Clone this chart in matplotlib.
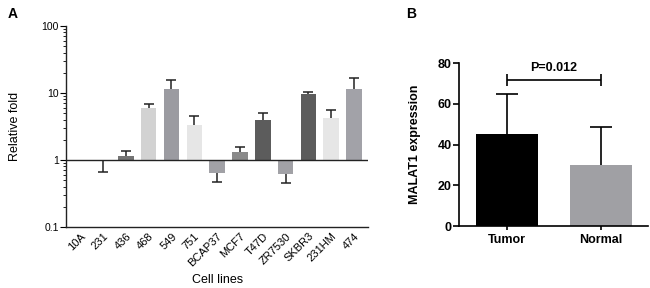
import numpy as np
import matplotlib.pyplot as plt
from matplotlib.ticker import LogLocator, NullFormatter, FixedLocator

plt.rcParams['font.family'] = ['Liberation Sans', 'DejaVu Sans']

# panel A data
cell_lines = ['10A', '231', '436', '468', '549', '751', 'BCAP37', 'MCF7',
              'T47D', 'ZR7530', 'SKBR3', '231HM', '474']
fold_mean = [1.0, 0.98, 1.15, 5.9, 11.6, 3.3, 0.64, 1.32, 3.9, 0.61, 9.5, 4.2, 11.4]
fold_sd = [0.0, 0.33, 0.2, 0.9, 4.0, 1.2, 0.17, 0.24, 1.2, 0.16, 1.0, 1.3, 5.5]
fold_colors = ['#ffffff', '#8c8c8c', '#747474', '#d2d2d2', '#9b9ba1', '#e6e6e6',
               '#a1a1a6', '#8a8a8a', '#5c5c5c', '#a1a1a6', '#5c5c5c', '#e6e6e6', '#a2a2a8']

# panel B data
groups = ['Tumor', 'Normal']
expr_mean = [45.3, 30.0]
expr_sd = [19.7, 18.6]
expr_colors = ['#000000', '#a0a0a4']
p_text = 'P=0.012'


def one_sided_err(ax, xs, means, tips, color, lw, cap):
    # stem from bar end to tip, cap only at the tip
    ax.vlines(xs, means, tips, color=color, lw=lw, zorder=3)
    ax.plot(xs, tips, ls='none', marker='_', ms=cap, mew=lw, color=color, zorder=3)


fig = plt.figure(figsize=(6.5, 2.88), dpi=100)

# ---- panel A ----
ax = fig.add_axes([0.1015, 0.212, 0.465, 0.698])
x = np.arange(len(cell_lines))
mean = np.array(fold_mean)
sd = np.array(fold_sd)
tips = np.where(mean >= 1, mean + sd, mean - sd)
ax.bar(x, mean - 1, bottom=1, width=0.68, color=fold_colors, edgecolor='none')
has_err = sd > 0
one_sided_err(ax, x[has_err], mean[has_err], tips[has_err], '#222222', 1.1, 7)
ax.set_yscale('log')
ax.set_ylim(0.1, 100)
ax.set_xlim(-0.62, len(cell_lines) - 0.38)
ax.axhline(1, color='#222222', lw=1.0)
ax.yaxis.set_major_locator(FixedLocator([0.1, 1, 10, 100]))
ax.set_yticklabels(['0.1', '1', '10', '100'])
ax.yaxis.set_minor_locator(LogLocator(base=10, subs=np.arange(2, 10)))
ax.yaxis.set_minor_formatter(NullFormatter())
ax.set_xticks(x)
ax.set_xticklabels(cell_lines, rotation=45, ha='right', rotation_mode='anchor')
ax.tick_params(axis='x', length=0, labelsize=8, pad=3)
ax.tick_params(axis='y', which='major', length=4, labelsize=7.5, pad=1)
ax.tick_params(axis='y', which='minor', length=2)
for s in ['top', 'right']:
    ax.spines[s].set_visible(False)
for s in ['left', 'bottom']:
    ax.spines[s].set_linewidth(1.0)
    ax.spines[s].set_color('#222222')
ax.set_ylabel('Relative fold', fontsize=9)
ax.set_xlabel('Cell lines', fontsize=9)
ax.yaxis.set_label_coords(-0.15, 0.5)
ax.xaxis.set_label_coords(0.5, -0.235)

# ---- panel B ----
bx = fig.add_axes([0.706, 0.215, 0.291, 0.566])
xb = np.arange(len(groups))
bx.bar(xb, expr_mean, width=0.66, color=expr_colors, edgecolor='none')
one_sided_err(bx, xb, np.array(expr_mean), np.array(expr_mean) + np.array(expr_sd),
              'black', 1.2, 16)
bx.set_ylim(0, 80)
bx.set_xlim(-0.51, 1.5)
bx.set_yticks([0, 20, 40, 60, 80])
bx.set_xticks(xb)
bx.set_xticklabels(groups, fontweight='bold', fontsize=9)
for lab in bx.get_yticklabels():
    lab.set_fontweight('bold')
bx.tick_params(axis='y', length=4, labelsize=9, width=1.2, pad=1)
bx.tick_params(axis='x', length=3, width=1.2, pad=3)
for s in ['top', 'right']:
    bx.spines[s].set_visible(False)
for s in ['left', 'bottom']:
    bx.spines[s].set_linewidth(1.2)
bx.set_ylabel('MALAT1 expression', fontsize=9, fontweight='bold')
bx.yaxis.set_label_coords(-0.2, 0.5)
bx.errorbar([0.5], [71.5], xerr=[0.5], fmt='none', ecolor='black',
            elinewidth=1.2, capsize=4, capthick=1.2, clip_on=False)
bx.text(0.5, 74.5, p_text, ha='center', va='bottom', fontsize=9, fontweight='bold')

fig.text(0.012, 0.975, 'A', fontsize=10, fontweight='bold', va='top')
fig.text(0.625, 0.975, 'B', fontsize=10, fontweight='bold', va='top')

fig.savefig('out.png', dpi=100)
